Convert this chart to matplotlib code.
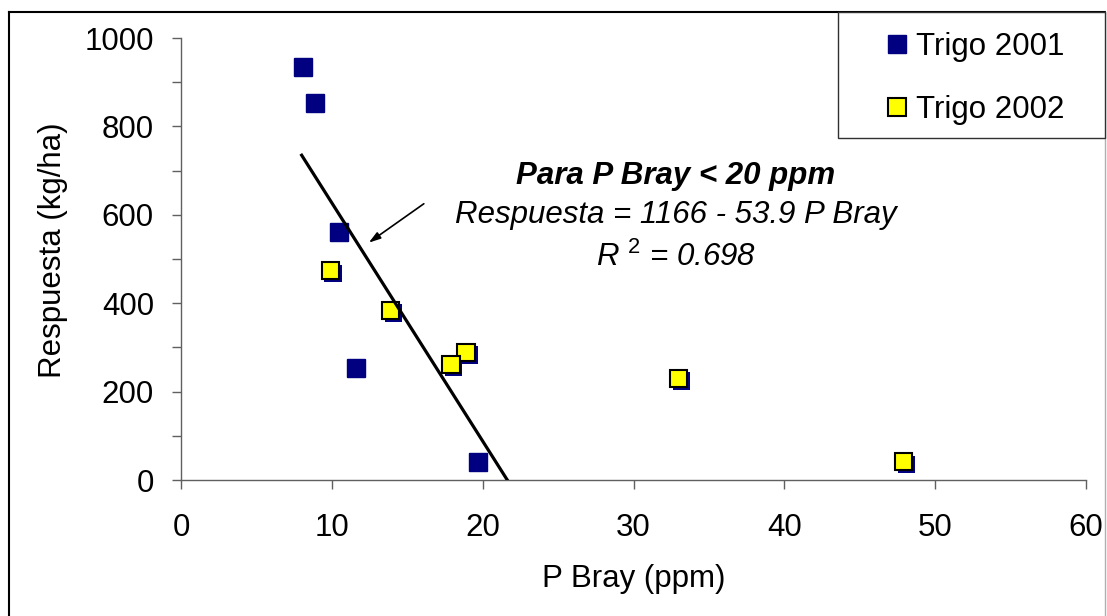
import matplotlib
matplotlib.use("Agg")
import matplotlib.pyplot as plt
import matplotlib.patheffects as pe
from matplotlib.lines import Line2D
from matplotlib.patches import Rectangle
from matplotlib.ticker import MultipleLocator

plt.rcParams['font.family'] = ['Liberation Sans', 'DejaVu Sans']
plt.rcParams['mathtext.fontset'] = 'custom'
plt.rcParams['mathtext.it'] = 'Liberation Sans:italic'
plt.rcParams['mathtext.rm'] = 'Liberation Sans'

# Data
x2001 = [8.1, 8.9, 10.5, 11.6, 19.7]
y2001 = [934, 853, 560, 253, 40]
x2002 = [9.9, 13.9, 18.9, 17.9, 33.0, 47.9]
y2002 = [474, 384, 289, 262, 230, 42]
intercept = 1166
slope = -53.9
fit_x = [8.0, 1166 / 53.9]
labels = ["Trigo 2001", "Trigo 2002"]

FS = 22.5
W, H = 1107, 616
fig = plt.figure(figsize=(W / 100, H / 100), dpi=100)
ax = fig.add_axes([181 / W, 1 - 480 / H, (1086 - 181) / W, (480 - 38) / H])

navy = '#000080'
ax.plot(x2001, y2001, linestyle='none', marker='s', markersize=13,
        markerfacecolor=navy, markeredgecolor=navy, zorder=3)
ax.plot(x2002, y2002, linestyle='none', marker='s', markersize=12.5,
        markerfacecolor='#ffff00', markeredgecolor='black', markeredgewidth=1.5,
        zorder=4,
        path_effects=[pe.SimplePatchShadow(offset=(2, -2), shadow_rgbFace=navy, alpha=1),
                      pe.Normal()])

fy = [intercept + slope * v for v in fit_x]
ax.plot(fit_x, fy, color='black', lw=2.3, zorder=5)

ax.annotate('', xy=(12.45, 537), xytext=(16.1, 625),
            arrowprops=dict(arrowstyle='-|>,head_length=0.7,head_width=0.22',
                            color='black', lw=1.2, shrinkA=0, shrinkB=0))

ax.text(32.8, 688, "Para P Bray < 20 ppm", fontsize=FS, fontweight='bold',
        style='italic', ha='center', va='center')
ax.text(32.8, 600, "Respuesta = 1166 - 53.9 P Bray", fontsize=FS,
        style='italic', ha='center', va='center')
ax.text(32.8, 503, "R $^{\\mathit{2}}$ = 0.698", fontsize=FS,
        style='italic', ha='center', va='center')

ax.set_xlim(0, 60)
ax.set_ylim(0, 1000)
ax.xaxis.set_major_locator(MultipleLocator(10))
ax.yaxis.set_major_locator(MultipleLocator(200))
ax.yaxis.set_minor_locator(MultipleLocator(100))
for s in ['top', 'right']:
    ax.spines[s].set_visible(False)
for s in ['left', 'bottom']:
    ax.spines[s].set_color('#606060')
    ax.spines[s].set_linewidth(1.0)
ax.tick_params(axis='both', which='both', direction='out', length=6.5,
               width=1.0, color='#606060', labelsize=FS)
ax.tick_params(axis='y', which='major', pad=13)
ax.tick_params(axis='x', which='major', pad=17)
ax.patch.set_visible(False)

ax.set_xlabel("P Bray (ppm)", fontsize=FS)
ax.set_ylabel("Respuesta (kg/ha)", fontsize=FS)
ax.xaxis.set_label_coords((634 - 181) / 905, (480 - 564) / 442)
ax.yaxis.set_label_coords((68 - 181) / 905, (480 - 250) / 442)

# Outer chart frame
fig.add_artist(Line2D([9 / W, 9 / W], [0, 1 - 12 / H], color='black', lw=1.5,
                      transform=fig.transFigure))
fig.add_artist(Line2D([9 / W, 1105 / W], [1 - 12 / H, 1 - 12 / H], color='black', lw=1.5,
                      transform=fig.transFigure))
fig.add_artist(Line2D([1105 / W, 1105 / W], [0, 1 - 12 / H], color='#b0b0b0', lw=1.0,
                      transform=fig.transFigure))

# Legend box
fig.add_artist(Rectangle((838 / W, 1 - 138 / H), (1105 - 838) / W, 126 / H,
                         transform=fig.transFigure, facecolor='white',
                         edgecolor='#303030', lw=1.0, zorder=10))
handles = [Line2D([], [], linestyle='none', marker='s', markersize=13,
                  markerfacecolor=navy, markeredgecolor=navy),
           Line2D([], [], linestyle='none', marker='s', markersize=12.5,
                  markerfacecolor='#ffff00', markeredgecolor='black', markeredgewidth=1.5)]
leg = fig.legend(handles, labels, loc='center left',
                 bbox_to_anchor=(888 / W, 1 - 78.5 / H), frameon=False,
                 fontsize=FS, handlelength=0.6, handletextpad=0.3,
                 labelspacing=1.05, borderpad=0, borderaxespad=0)
leg.set_zorder(11)

fig.savefig("out.png", dpi=100)
